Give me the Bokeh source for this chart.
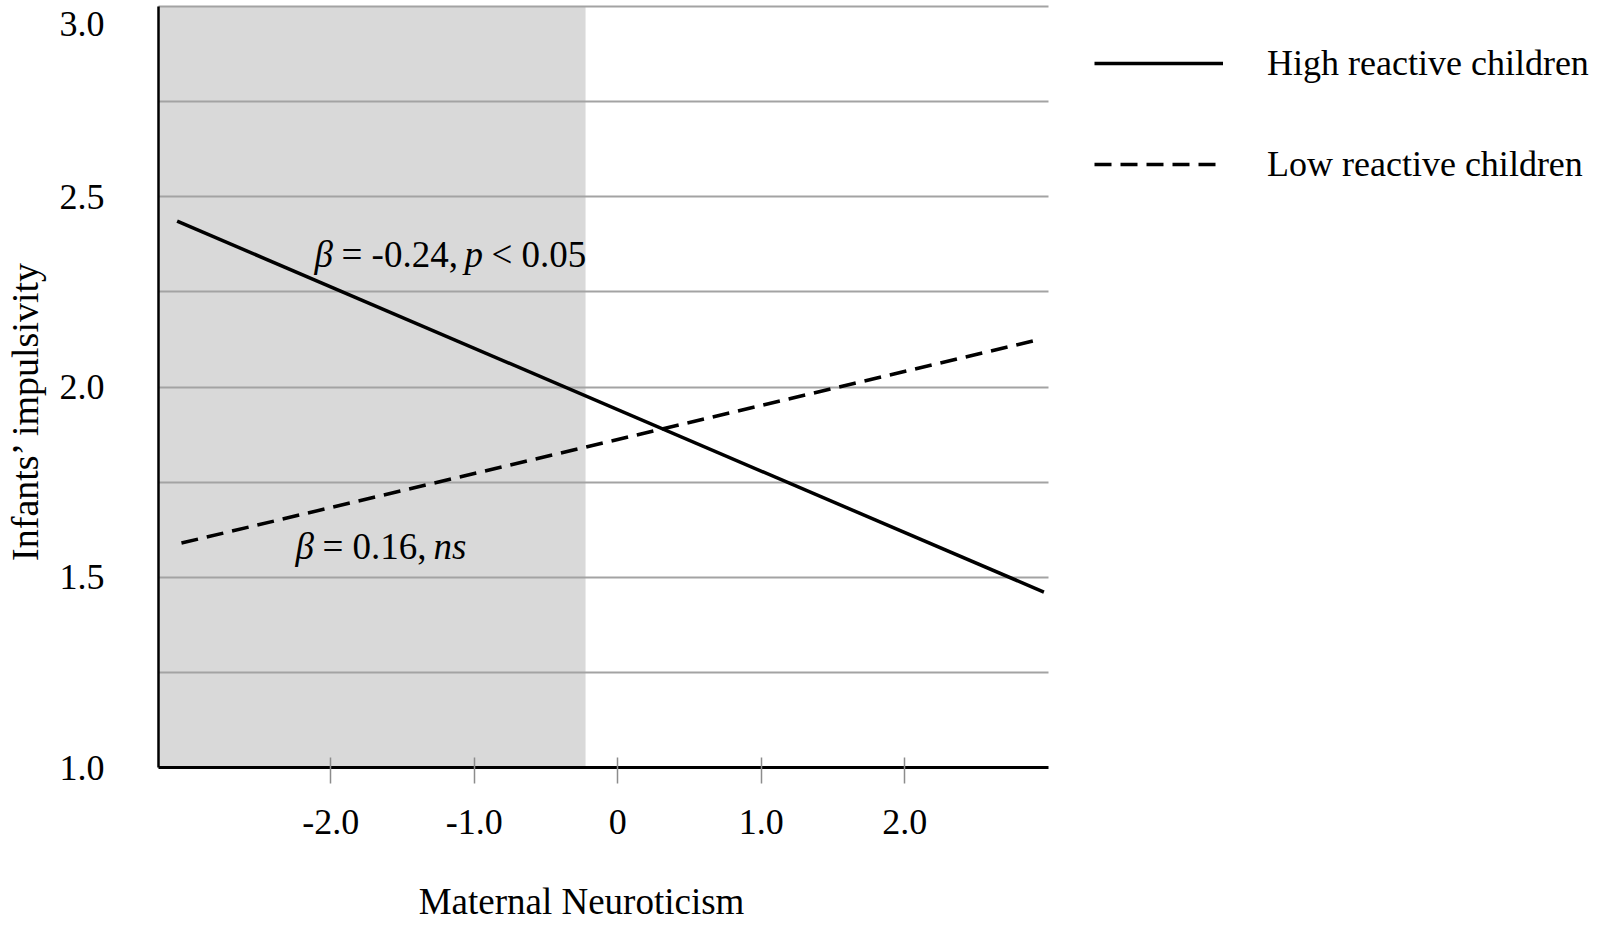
import math
from bokeh.plotting import figure
from bokeh.models import Range1d, FixedTicker, Label, Legend, LegendItem, NumeralTickFormatter
from bokeh.embed import file_html
from bokeh.resources import INLINE

# ---------------- data ----------------
x_ticks = [-2.0, -1.0, 0.0, 1.0, 2.0]
x_tick_labels = ["-2.0", "-1.0", "0", "1.0", "2.0"]
y_ticks = [1.0, 1.5, 2.0, 2.5, 3.0]
y_tick_labels = ["1.0", "1.5", "2.0", "2.5", "3.0"]
grid_levels = [1.25, 1.5, 1.75, 2.0, 2.25, 2.5, 2.75, 3.0]

series_names = ["High reactive children", "Low reactive children"]
high_x = [-3.07, 2.97]
high_y = [2.436, 1.461]
low_x = [-3.04, 2.94]
low_y = [1.590, 2.125]

jn_bound = -0.224          # right edge of the shaded (significance) region

X_START, X_END = -3.2, 3.002
Y_START, Y_END = 1.0, 3.0

# ---------------- layout ----------------
W, H = 1600, 925
PAGE = 0                         # canvas origin on the page
PLOT_L, PLOT_T = 158, 6          # plotting area inside the canvas
PLOT_W, PLOT_H = 890, 761
SX = PLOT_W / (X_END - X_START)  # px per x unit
SY = PLOT_H / (Y_END - Y_START)  # px per y unit

# full-canvas ranges so that labels and legend sit inside the frame
XR = Range1d(X_START - PLOT_L / SX, X_START + (W - PLOT_L) / SX)
YR = Range1d(Y_END - (H - PLOT_T) / SY, Y_END + PLOT_T / SY)

def x_at(page_px):
    return X_START + (page_px - PAGE - PLOT_L) / SX

def y_at(page_py):
    return Y_END - (page_py - PAGE - PLOT_T) / SY

FONT = "Liberation Serif"

p = figure(width=W, height=H, x_range=XR, y_range=YR,
           output_backend="svg", toolbar_location=None, title=None,
           min_border_left=0, min_border_right=0, min_border_top=0, min_border_bottom=0)
p.outline_line_color = None
p.background_fill_color = "white"
p.border_fill_color = "white"

# grid
p.xgrid.visible = False
yg = p.ygrid[0]
yg.ticker = FixedTicker(ticks=grid_levels)
yg.grid_line_color = "#a3a3a3"
yg.grid_line_width = 2
if "cross_bounds" in yg.properties():
    yg.cross_bounds = (X_START, X_END)
else:
    yg.visible = False
    p.segment(x0=X_START, x1=X_END, y0=grid_levels, y1=grid_levels,
              line_color="#a3a3a3", line_width=2, level="underlay")

# x axis
xa = p.xaxis[0]
xa.fixed_location = Y_START
xa.bounds = (X_START, X_END)
xa.ticker = FixedTicker(ticks=x_ticks)
xa.formatter = NumeralTickFormatter(format="0.0")
xa.major_label_overrides = dict(zip(x_ticks, x_tick_labels))
xa.major_tick_in = 10
xa.major_tick_out = 16
xa.major_tick_line_color = "#8c8c8c"
xa.major_tick_line_width = 1.5
xa.minor_tick_line_color = None
xa.axis_line_width = 3
xa.axis_line_color = "black"
xa.major_label_text_font = FONT
xa.major_label_text_font_size = "36px"
xa.major_label_text_color = "black"
xa.major_label_standoff = 26

# y axis (top label drawn separately, as in the reference it sits below its line)
ya = p.yaxis[0]
ya.fixed_location = X_START
ya.bounds = (Y_START, Y_END)
ya.ticker = FixedTicker(ticks=y_ticks[:-1])
ya.formatter = NumeralTickFormatter(format="0.0")
ya.major_tick_in = 0
ya.major_tick_out = 0
ya.major_tick_line_color = None
ya.minor_tick_line_color = None
ya.axis_line_width = 2.5
ya.axis_line_color = "black"
ya.major_label_text_font = FONT
ya.major_label_text_font_size = "36px"
ya.major_label_text_color = "black"
ya.major_label_standoff = 54

# shaded region
p.quad(left=[X_START], right=[jn_bound], bottom=[Y_START], top=[Y_END],
       fill_color="#d9d9d9", line_color=None, level="image")

# lines
r_high = p.line(high_x, high_y, line_color="black", line_width=3.5)
r_low = p.line(low_x, low_y, line_color="black", line_width=3.5, line_dash="17 9")

# legend (right of the plotting area)
legend = Legend(items=[LegendItem(label=series_names[0], renderers=[r_high]),
                       LegendItem(label=series_names[1], renderers=[r_low])],
                location=(1094 - PAGE, H - 38 - 151),
                glyph_width=129, glyph_height=50, spacing=51, padding=0, margin=0,
                label_standoff=44, border_line_color=None, background_fill_alpha=0,
                label_text_font=FONT, label_text_font_size="36px", label_text_color="black")
p.add_layout(legend)

# top y tick label
p.add_layout(Label(x=x_at(104), y=y_at(23), text=y_tick_labels[-1], text_align="right",
                   text_baseline="middle", text_font=FONT, text_font_size="36px",
                   text_color="black"))

# axis titles
p.add_layout(Label(x=x_at(581), y=y_at(901), text="Maternal Neuroticism", text_align="center",
                   text_baseline="middle", text_font=FONT, text_font_size="37px", text_color="black"))
p.add_layout(Label(x=x_at(24), y=y_at(410), text="Infants\u2019 impulsivity", angle=math.pi / 2,
                   text_align="center", text_baseline="middle", text_font=FONT,
                   text_font_size="38px", text_color="black"))

# slope annotations (mixed italic / roman pieces)
def rich(x, y, parts):
    for txt, off, italic in parts:
        p.add_layout(Label(x=x, y=y, x_offset=off, text=txt, text_align="left",
                           text_baseline="middle", text_font=FONT, text_font_size="37px",
                           text_font_style="italic" if italic else "normal", text_color="black"))

rich(x_at(314), y_at(254), [("\u03b2", 0, True), ("= -0.24,", 27, False), ("p", 150, True), ("< 0.05", 177, False)])
rich(x_at(295), y_at(546), [("\u03b2", 0, True), ("= 0.16,", 27, False), ("ns", 138, True)])

open("out.html", "w").write(file_html(p, INLINE))
